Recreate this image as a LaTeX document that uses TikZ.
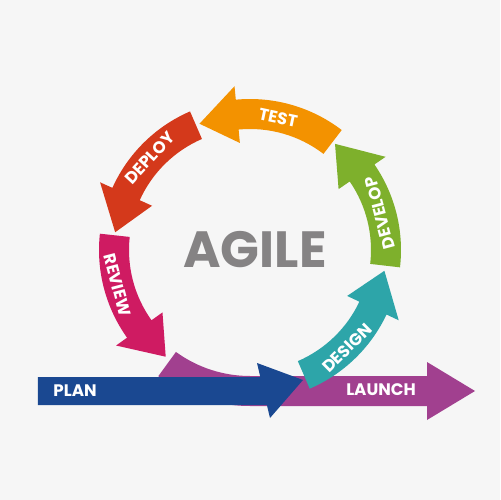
\documentclass[tikz,border=0pt]{standalone}
\usepackage{fontspec}
\usepackage{tikz}
\setmainfont{Poppins}

\definecolor{TestColor}{RGB}{243,146,0}
\definecolor{DeployColor}{RGB}{212,57,27}
\definecolor{ReviewColor}{RGB}{207,27,98}
\definecolor{LaunchColor}{RGB}{161,64,143}
\definecolor{PlanColor}{RGB}{26,72,145}
\definecolor{DesignColor}{RGB}{45,165,169}
\definecolor{DevelopColor}{RGB}{126,176,44}
\definecolor{TitleGray}{RGB}{133,131,132}
\definecolor{PaperColor}{RGB}{246,246,246}

\begin{document}
\begin{tikzpicture}[x=0.02cm,y=0.02cm]
  \tikzset{LabelStyle/.style = {
    text          = white,
    font          = \fontsize{9.5}{10}\selectfont\bfseries,
    inner sep     = 0pt,
    outer sep     = 0pt
    }
  }
  \tikzset{TitleStyle/.style = {
    text          = TitleGray,
    font          = \fontsize{29}{30}\selectfont\bfseries,
    inner sep     = 0pt
    }
  }

  \fill[PaperColor] (-250,-250) rectangle (250,250);
  \useasboundingbox (-250,-250) rectangle (250,250);

  % launch: arc into the straight arrow
  \fill[LaunchColor] (234:156) arc[start angle=234, end angle=270, radius=156] -- (177,-156) -- (177,-170) -- (225,-141) -- (177,-112) -- (177,-126) -- (0,-126) arc[start angle=270, end angle=234, radius=126] -- cycle;
  % plan
  \fill[PlanColor] (-212,-127) -- (10.3,-127) -- (7,-113) -- (53,-130) -- (20,-168) -- (16.9,-155) -- (-212,-155) -- cycle;

  % ring arrows
  \fill[TestColor] (52.6:151) arc[start angle=52.6, end angle=95.4, radius=151] -- (95.4:164.5) -- (111.8:136) -- (95.4:107.5) -- (95.4:121) arc[start angle=95.4, end angle=52.6, radius=121] -- cycle;
  \fill[DeployColor] (113.4:151) arc[start angle=113.4, end angle=155.7, radius=151] -- (155.7:164.5) -- (172.5:136) -- (155.7:107.5) -- (155.7:121) arc[start angle=155.7, end angle=113.4, radius=121] -- cycle;
  \fill[ReviewColor] (173.8:151) arc[start angle=173.8, end angle=215.5, radius=151] -- (215.5:164.5) -- (231.7:136) -- (215.5:107.5) -- (215.5:121) arc[start angle=215.5, end angle=173.8, radius=121] -- cycle;
  \fill[DesignColor] (293.3:151) arc[start angle=293.3, end angle=334.7, radius=151] -- (334.7:164.5) -- (351.2:136) -- (334.7:107.5) -- (334.7:121) arc[start angle=334.7, end angle=293.3, radius=121] -- cycle;
  \fill[DevelopColor] (353.4:151) arc[start angle=353.4, end angle=394.5, radius=151] -- (394.5:164.5) -- (411.3:136) -- (394.5:107.5) -- (394.5:121) arc[start angle=394.5, end angle=353.4, radius=121] -- cycle;

  \node[TitleStyle](Title) at (5,0) {AGILE};

  \node[LabelStyle, rotate=-12](Test) at (78:135) {TEST};
  \node[LabelStyle, rotate=47.4](Deploy) at (137.4:136) {DEPLOY};
  \node[LabelStyle, rotate=-75.3](Review) at (194.7:137) {REVIEW};
  \node[LabelStyle, rotate=44.7](Design) at (314.7:138) {DESIGN};
  \node[LabelStyle, rotate=105](Develop) at (15.9:135) {DEVELOP};
  \node[LabelStyle](Plan) at (-175,-141) {PLAN};
  \node[LabelStyle](Launch) at (131,-140) {LAUNCH};

  \end{tikzpicture}
\end{document}
